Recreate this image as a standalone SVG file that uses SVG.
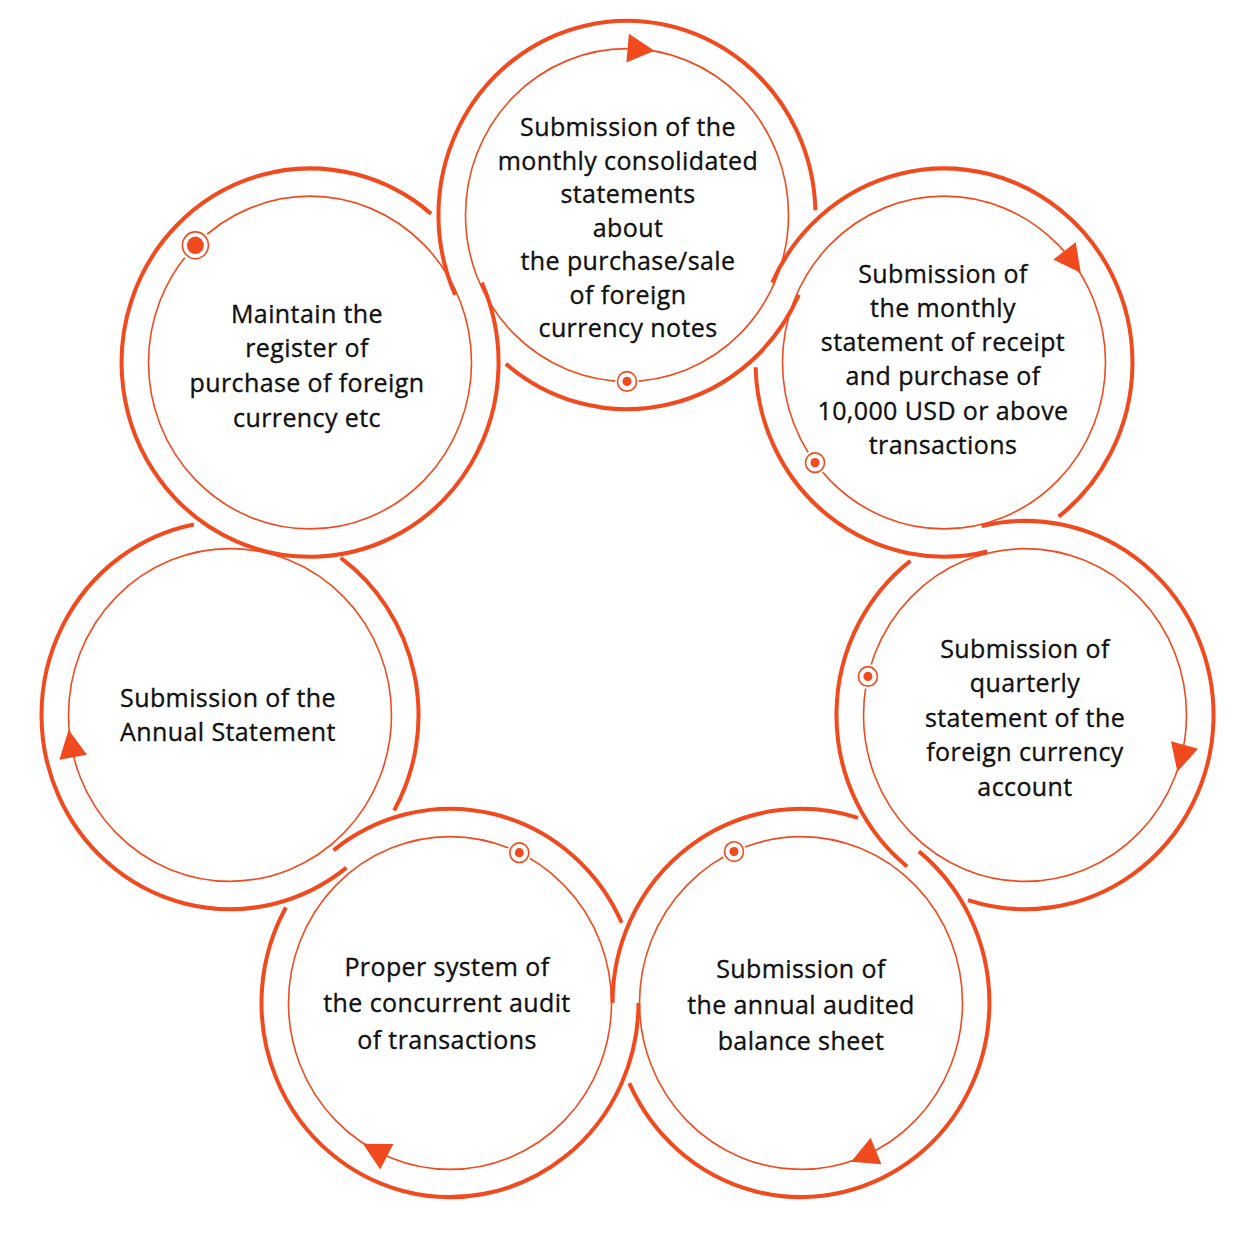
<svg xmlns="http://www.w3.org/2000/svg" width="1254" height="1254" viewBox="0 0 1254 1254">
<style>
.outer{fill:none;stroke:#F14A1E;stroke-width:4}
.inner{fill:none;stroke:#F14A1E;stroke-width:1.6}
.gap{fill:#fff}
.ring{fill:#fff;stroke:#F14A1E;stroke-width:1.6}
.dot{fill:#F14A1E}
.arrow{fill:#F14A1E}
.label{font-family:"Open Sans","Liberation Sans",sans-serif;font-size:25px;font-weight:500;letter-spacing:0.4px;fill:#111;stroke:#111;stroke-width:0.35px;text-anchor:middle}
</style>
<defs>
<polygon id="ah" points="13,0 -14,-14 -14,14"/>
</defs>
<rect width="1254" height="1254" fill="#fff"/>

<g id="node1">
<g transform="matrix(1 0 0 1.03 0 -18.36)">
<path class="outer" d="M798.8,304.2 A188.5,188.5 0 0 1 505.9,371.0 M455.2,304.2 A188.5,188.5 0 1 1 815.4,222.0"/>
<circle class="inner" cx="627" cy="226.6" r="161.5"/>
<circle class="gap" cx="627" cy="388.1" r="12"/>
<circle class="ring" cx="627" cy="388.1" r="9.5"/>
<circle class="dot" cx="627" cy="388.1" r="4.5"/>
</g>
<text class="label" x="628" y="136">Submission of the</text>
<text class="label" x="628" y="169.5">monthly consolidated</text>
<text class="label" x="628" y="203">statements</text>
<text class="label" x="628" y="236.5">about</text>
<text class="label" x="628" y="270">the purchase/sale</text>
<text class="label" x="628" y="303.5">of foreign</text>
<text class="label" x="628" y="337">currency notes</text>
</g>

<g id="node2">
<g transform="matrix(1 0 0 1.03 0 -18.36)">
<path class="outer" d="M987.4,553.2 A188.5,188.5 0 0 1 755.6,374.4 M772.2,292.2 A188.5,188.5 0 1 1 1058.6,519.5"/>
<circle class="inner" cx="944" cy="369.8" r="161.5"/>
<circle class="gap" cx="815" cy="467" r="12"/>
<circle class="ring" cx="815" cy="467" r="9.5"/>
<circle class="dot" cx="815" cy="467" r="4.5"/>
</g>
<text class="label" x="943" y="282.7">Submission of</text>
<text class="label" x="943" y="316.9">the monthly</text>
<text class="label" x="943" y="351.1">statement of receipt</text>
<text class="label" x="943" y="385.3">and purchase of</text>
<text class="label" x="943" y="419.8">10,000 USD or above</text>
<text class="label" x="943" y="454.2">transactions</text>
</g>

<g id="node3">
<g transform="matrix(1 0 0 1.03 0 -18.36)">
<path class="outer" d="M907.1,859.1 A188.5,188.5 0 0 1 910.4,562.3 M981.6,528.6 A188.5,188.5 0 1 1 968.0,891.7"/>
<circle class="inner" cx="1025" cy="712" r="161.5"/>
<circle class="gap" cx="867.9" cy="674.6" r="12"/>
<circle class="ring" cx="867.9" cy="674.6" r="9.5"/>
<circle class="dot" cx="867.9" cy="674.6" r="4.5"/>
</g>
<text class="label" x="1025" y="657.7">Submission of</text>
<text class="label" x="1025" y="691.9">quarterly</text>
<text class="label" x="1025" y="726.8">statement of the</text>
<text class="label" x="1025" y="761.4">foreign currency</text>
<text class="label" x="1025" y="796">account</text>
</g>

<g id="node4">
<g transform="matrix(1 0 0 1.03 0 -18.36)">
<path class="outer" d="M612.5,991.6 A188.5,188.5 0 0 1 858.0,811.9 M918.9,844.5 A188.5,188.5 0 1 1 629.3,1069.5"/>
<circle class="inner" cx="801" cy="991.6" r="161.5"/>
<circle class="gap" cx="734" cy="844.6" r="12"/>
<circle class="ring" cx="734" cy="844.6" r="9.5"/>
<circle class="dot" cx="734" cy="844.6" r="4.5"/>
</g>
<text class="label" x="801" y="977.7">Submission of</text>
<text class="label" x="801" y="1013.6">the annual audited</text>
<text class="label" x="801" y="1050">balance sheet</text>
</g>

<g id="node5">
<g transform="matrix(1 0 0 1.03 0 -18.36)">
<path class="outer" d="M638.5,991.6 A188.5,188.5 0 1 1 285.9,898.8 M333.5,843.4 A188.5,188.5 0 0 1 621.7,913.7"/>
<circle class="inner" cx="450" cy="991.6" r="161.5"/>
<circle class="gap" cx="519.3" cy="845.7" r="12"/>
<circle class="ring" cx="519.3" cy="845.7" r="9.5"/>
<circle class="dot" cx="519.3" cy="845.7" r="4.5"/>
</g>
<text class="label" x="447" y="975.7">Proper system of</text>
<text class="label" x="447" y="1012.3">the concurrent audit</text>
<text class="label" x="447" y="1049">of transactions</text>
</g>

<g id="node6">
<g transform="matrix(1 0 0 1.03 0 -18.36)">
<path class="outer" d="M346.5,860.2 A188.5,188.5 0 1 1 193.9,527.0 M340.8,559.5 A188.5,188.5 0 0 1 394.1,804.8"/>
<circle class="inner" cx="230" cy="712" r="161.5"/>
</g>
<text class="label" x="228" y="706.7">Submission of the</text>
<text class="label" x="228" y="740.7">Annual Statement</text>
</g>

<g id="node7">
<g transform="matrix(1 0 0 1.03 0 -18.36)">
<path class="outer" d="M481.8,292.2 A188.5,188.5 0 1 1 431.1,225.4"/>
<circle class="inner" cx="310" cy="369.8" r="161.5"/>
<circle class="gap" cx="195.4" cy="256" r="16"/>
<circle class="ring" cx="195.4" cy="256" r="13"/>
<circle class="dot" cx="195.4" cy="256" r="8.5"/>
</g>
<text class="label" x="307" y="322.7">Maintain the</text>
<text class="label" x="307" y="356.9">register of</text>
<text class="label" x="307" y="391.7">purchase of foreign</text>
<text class="label" x="307" y="426.7">currency etc</text>
</g>

<g id="connectors">
<g transform="matrix(1 0 0 1.03 0 -18.36)">
<use href="#ah" class="arrow" transform="translate(641.6,65.8) rotate(5.2)"/>
<use href="#ah" class="arrow" transform="translate(1073,272.6) rotate(53)"/>
<use href="#ah" class="arrow" transform="translate(1180.8,754.6) rotate(105.3)"/>
<use href="#ah" class="arrow" transform="translate(863.1,1140.7) rotate(157.4)"/>
<use href="#ah" class="arrow" transform="translate(374.4,1134.3) rotate(207.9)"/>
<use href="#ah" class="arrow" transform="translate(70.8,739.2) rotate(260.3)"/>
</g>
</g>
</svg>
